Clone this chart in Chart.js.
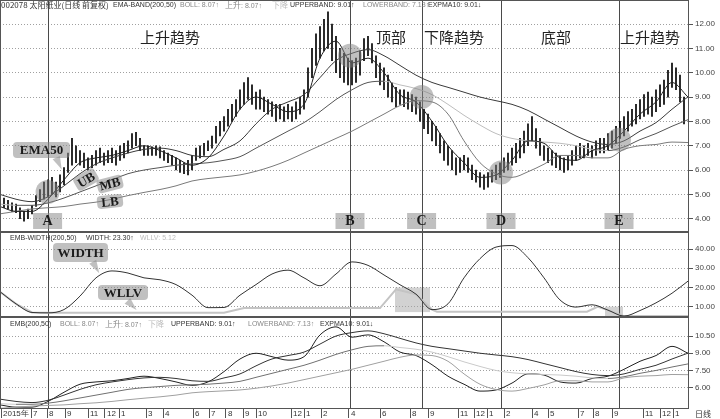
<!DOCTYPE html>
<html><head><meta charset="utf-8">
<script src="https://cdn.jsdelivr.net/npm/chart.js@4.4.0/dist/chart.umd.min.js"></script>
<style>
html,body{margin:0;padding:0;background:#fff}
#wrap{position:relative;width:720px;height:419px;overflow:hidden;background:#fff}
canvas{position:absolute;left:0}
.h{position:absolute;font:7px "Liberation Sans","DejaVu Sans",sans-serif;line-height:9px;white-space:nowrap;color:#333}
.h.z,.z{font-family:"Noto Sans CJK SC",sans-serif;font-size:8px}
.g{color:#888}.l{color:#bdbdbd}
.big{position:absolute;font:15px "Noto Sans CJK SC",sans-serif;line-height:15px;color:#222;white-space:nowrap}
.tag{position:absolute;font:bold 13px "Liberation Serif","DejaVu Serif",serif;color:#1b1b1b;background:rgba(140,140,140,0.55);border-radius:4px;text-align:center;white-space:nowrap}
.tail{position:absolute;width:0;height:0;border-left:4px solid transparent;border-right:4px solid transparent;border-top:13px solid rgba(140,140,140,0.55)}
</style></head>
<body><div id="wrap">
<canvas id="c1" width="720" height="232" style="top:0"></canvas>
<canvas id="c2" width="720" height="85" style="top:232px"></canvas>
<canvas id="c3" width="720" height="102" style="top:317px"></canvas>

<div class="h z" style="left:1px;top:0">002078 太阳纸业(日线 前复权)</div>
<div class="h" style="left:113px;top:0">EMA-BAND(200,50)</div>
<div class="h g" style="left:180px;top:0">BOLL: 8.07↑</div>
<div class="h g" style="left:225px;top:0"><span class="z">上升</span>: 8.07↑</div>
<div class="h l z" style="left:272px;top:0">下降</div>
<div class="h" style="left:290px;top:0">UPPERBAND: 9.01↑</div>
<div class="h g" style="left:363px;top:0">LOWERBAND: 7.13↑</div>
<div class="h" style="left:428px;top:0">EXPMA10: 9.01↓</div>

<div class="h" style="left:10px;top:233px">EMB-WIDTH(200,50)</div>
<div class="h" style="left:86px;top:233px">WIDTH: 23.30↑</div>
<div class="h l" style="left:140px;top:233px">WLLV: 5.12</div>

<div class="h" style="left:10px;top:319px">EMB(200,50)</div>
<div class="h g" style="left:60px;top:319px">BOLL: 8.07↑</div>
<div class="h g" style="left:105px;top:319px"><span class="z">上升</span>: 8.07↑</div>
<div class="h l z" style="left:148px;top:319px">下降</div>
<div class="h" style="left:171px;top:319px">UPPERBAND: 9.01↑</div>
<div class="h g" style="left:248px;top:319px">LOWERBAND: 7.13↑</div>
<div class="h" style="left:320px;top:319px">EXPMA10: 9.01↓</div>
<div class="h z" style="left:695px;top:409px">日线</div>

<div class="big" style="left:140px;top:29px">上升趋势</div>
<div class="big" style="left:376px;top:29px">顶部</div>
<div class="big" style="left:424px;top:29px">下降趋势</div>
<div class="big" style="left:541px;top:29px">底部</div>
<div class="big" style="left:620px;top:29px">上升趋势</div>

<div class="tail" style="left:55px;top:157px;transform:rotate(-25deg)"></div>
<div class="tag" style="left:13px;top:142px;width:57px;height:16px;line-height:16px">EMA50</div>
<div class="tag" style="left:74px;top:172px;width:24px;height:15px;line-height:15px;transform:rotate(-30deg)">UB</div>
<div class="tag" style="left:97px;top:177px;width:26px;height:14px;line-height:14px;transform:rotate(-14deg)">MB</div>
<div class="tag" style="left:97px;top:195px;width:26px;height:13px;line-height:13px;transform:rotate(-6deg)">LB</div>
<div class="tail" style="left:92px;top:261px;transform:rotate(-30deg)"></div>
<div class="tag" style="left:53px;top:243px;width:55px;height:19px;line-height:19px">WIDTH</div>
<div class="tail" style="left:128px;top:299px;transform:rotate(-45deg)"></div>
<div class="tag" style="left:98px;top:285px;width:50px;height:15px;line-height:15px">WLLV</div>
</div>
<script>
// ---- data ----
const lows = [
4.45,4.4,4.3,4.25,4.0,3.9,4.0,4.2,4.5,4.7,
4.8,4.9,5.0,4.9,5.1,5.4,5.9,6.2,6.3,6.2,
6.1,6.0,6.1,6.2,6.3,6.2,6.3,6.3,6.2,6.4,
6.5,6.7,6.9,7.0,6.8,6.6,6.6,6.6,6.6,6.5,
6.4,6.3,6.2,6.0,5.9,5.85,5.8,6.0,6.4,6.5,
6.6,6.8,6.9,7.1,7.4,7.6,7.8,8.0,8.2,8.5,
8.7,8.9,8.7,8.5,8.5,8.4,8.3,8.2,8.0,8.1,
8.0,8.1,8.0,8.1,8.3,8.5,9.0,9.8,10.3,10.6,
10.9,11.0,10.5,10.0,9.8,9.6,9.5,9.5,9.6,9.9,
10.5,10.7,10.4,9.8,9.5,9.3,9.0,8.8,8.6,8.7,
8.6,8.5,8.4,8.3,8.0,7.7,7.5,7.2,7.0,6.7,
6.4,6.2,6.0,5.8,5.9,6.0,5.9,5.6,5.5,5.3,
5.2,5.3,5.5,5.6,5.7,5.9,6.0,6.2,6.3,6.5,
6.7,7.0,7.2,6.9,6.6,6.4,6.3,6.2,6.1,6.0,
5.9,6.0,6.2,6.4,6.5,6.5,6.6,6.5,6.6,6.7,
6.7,6.8,6.9,7.1,7.3,7.4,7.6,7.8,7.9,8.1,
8.2,8.3,8.2,8.4,8.6,8.7,9.0,9.4,9.3,8.8,7.9];
const highs = [
4.85,4.75,4.65,4.6,4.45,4.3,4.4,4.55,4.95,5.2,
5.5,5.6,5.7,5.5,5.8,6.1,6.7,7.3,7.0,6.8,
6.7,6.5,6.6,6.8,6.9,6.7,6.8,6.9,6.8,7.0,
7.1,7.2,7.5,7.55,7.3,7.0,7.0,6.95,7.0,6.95,
6.8,6.7,6.6,6.5,6.4,6.3,6.4,6.6,6.9,7.0,
7.1,7.2,7.4,7.8,8.0,8.2,8.5,8.7,8.9,9.3,
9.6,9.8,9.5,9.2,9.3,9.0,8.9,8.8,8.7,8.7,
8.6,8.7,8.6,8.8,9.0,9.3,10.2,11.0,11.6,11.9,
12.2,12.5,12.0,11.5,11.0,10.8,10.6,10.5,10.6,10.9,
11.4,11.5,11.2,10.7,10.4,10.2,9.9,9.6,9.4,9.3,
9.3,9.2,9.1,9.0,8.8,8.5,8.3,8.0,7.8,7.5,
7.2,7.0,6.8,6.5,6.5,6.6,6.5,6.2,6.0,5.9,
5.8,5.9,6.0,6.2,6.3,6.5,6.7,6.9,7.1,7.3,
7.6,7.9,8.2,7.7,7.3,7.0,6.9,6.8,6.7,6.6,
6.5,6.6,6.8,7.0,7.1,7.0,7.1,7.0,7.2,7.3,
7.3,7.5,7.6,7.8,8.0,8.2,8.4,8.5,8.7,8.9,
9.1,9.2,9.0,9.3,9.5,9.7,10.1,10.4,10.2,9.9,9.0];
// line series sampled every 4 bars (day index 0,4,...,172)
const expma10 = [4.5,4.3,4.3,4.8,5.6,6.3,6.5,6.6,6.8,7.0,
6.8,6.5,6.2,6.5,7.4,8.5,9.0,8.7,8.4,8.7,
10.6,11.3,10.4,10.6,10.0,9.1,8.8,8.0,7.0,6.3,
5.7,5.8,6.4,7.2,7.1,6.5,6.4,6.8,7.0,7.6,
8.3,8.8,9.6,9.0];
const upperBand = [5.0,4.8,4.7,4.9,5.35,5.85,6.25,6.5,6.7,6.85,
6.9,6.8,6.6,6.55,6.85,7.2,7.9,8.5,8.8,9.1,
9.8,10.5,10.8,10.95,10.7,10.3,9.9,9.6,9.4,9.2,
9.0,8.85,8.7,8.45,8.1,7.75,7.4,7.15,7.05,7.2,
7.6,7.95,8.5,9.01];
const boll = [4.6,4.55,4.55,4.65,4.85,5.1,5.35,5.6,5.85,6.0,
6.1,6.2,6.25,6.3,6.4,6.55,6.9,7.25,7.6,7.95,
8.4,8.9,9.3,9.6,9.65,9.5,9.35,9.1,8.7,8.25,
7.85,7.5,7.3,7.2,7.15,7.1,7.0,6.85,6.8,6.95,
7.25,7.5,7.8,8.07];
const lowerBand = [4.2,4.3,4.4,4.45,4.5,4.6,4.68,4.8,4.95,5.08,
5.2,5.35,5.55,5.65,5.72,5.8,5.95,6.15,6.4,6.7,
7.0,7.3,7.6,7.95,8.3,8.65,8.85,8.8,8.3,7.2,
6.3,5.84,5.7,5.93,6.24,6.6,6.6,6.5,6.5,6.85,
7.0,7.05,7.15,7.13];
const widthVals = [17.8,11.5,7.0,6.8,8.5,15.5,25,28.6,27.5,25,
24,21.5,16,9.5,9.6,16,21.5,27,29,25,
20.9,27,33.3,31.5,26.5,21.4,16.5,8.5,11.5,25,
35,41,41.8,35.5,25,13.5,9.8,11,8.2,5.12,
8,12,17,23.3];
const wllvX = [0,4,8,12,56,61,95,99,104,108,109.25,146.75,149.5,152,156,172.25];
const wllvY = [17.8,11.5,7.0,6.8,6.8,9.3,9.3,19.0,16.5,8.5,7.4,7.4,10.0,8.2,5.12,5.12];
const markerX = [11.9,87.5,105.4,125.25,154.75];
const markerLabels = ['A','B','C','D','E'];
const circleY = [5.1,10.7,9.0,5.9,7.25];
const priceTicks = [4,5,6,7,8,9,10,11,12];
const widthTicks = [10,20,30,40];
const lowTicks = [6,7.5,9,10.5];
const monthPos = [0.25,7.75,11.75,16.25,22,26.25,29.75,36.5,40.75,48.25,52.25,56.5,60.75,64,72.75,76,80.25,87.25,95,102.5,107,114.5,118.5,121.75,126,133,137,144.5,148.25,153,160.75,165,168.25];
const monthLabels = ['2015年','7','8','9','11','12','1','3','4','6','7','8','9','10','12','1','2','4','6','8','9','11','12','1','2','4','5','7','8','9','11','12','1'];
const boxes2 = [{x0:98.75,x1:107.5,y0:7.2,y1:20},{x0:151.25,x1:155.75,y0:4.7,y1:10}];

// ---- helpers ----
const sampleDays = expma10.map((_, k) => k * 4);
const pts = arr => arr.map((y, k) => ({x: sampleDays[k], y}));
const X_MAX = 172.25;

function xScale(show) {
  const s = {type:'linear', min:0, max:X_MAX, offset:false, display:show,
    grid:{display:show, drawOnChartArea:false, offset:false, color:'#555', tickLength:9, tickColor:'#555'},
    border:{display:false}};
  if (show) {
    s.afterBuildTicks = sc => { sc.ticks = monthPos.map(v => ({value:v})); };
    s.afterFit = sc => { sc.height = 10; sc.paddingLeft = 0; sc.paddingRight = 0; };
    s.ticks = {autoSkip:false, maxRotation:0, minRotation:0, align:'start', labelOffset:2, padding:-9,
      font:{size:8, family:'Liberation Sans'}, color:'#333',
      callback:(v, i) => monthLabels[i]};
  }
  return s;
}
function yScale(min, max, ticks) {
  return {position:'right', min, max,
    afterBuildTicks: sc => { sc.ticks = ticks.map(v => ({value:v})); },
    afterFit: sc => { sc.width = 31; sc.paddingTop = 0; sc.paddingBottom = 0; },
    ticks:{autoSkip:false, callback:v => Number(v).toFixed(2), font:{size:8, family:'Liberation Sans'}, color:'#444', padding:2},
    grid:{color:'#a0a0a0', lineWidth:1, drawTicks:true, tickLength:4, tickColor:'#555'},
    border:{display:false, dash:[1,2]}};
}
const frame = {id:'frame', afterDraw(chart){
  const {ctx, chartArea:a} = chart; ctx.save(); ctx.strokeStyle='#555'; ctx.lineWidth=1;
  ctx.strokeRect(a.left+0.5, a.top+0.5, a.right-a.left-1, a.bottom-a.top-1); ctx.restore(); }};
const markers = {id:'markers', beforeDatasetsDraw(chart){
  const {ctx, chartArea:a, scales:{x}} = chart; ctx.save(); ctx.strokeStyle='#4a4a4a'; ctx.lineWidth=1;
  markerX.forEach(v => { const px = Math.round(x.getPixelForValue(v)) + 0.5;
    ctx.beginPath(); ctx.moveTo(px, a.top); ctx.lineTo(px, a.bottom); ctx.stroke(); });
  ctx.restore(); }};
const letterBoxes = {id:'letters', afterDatasetsDraw(chart){
  const {ctx, scales:{x}} = chart; ctx.save();
  markerX.forEach((v, k) => { const px = x.getPixelForValue(v);
    ctx.fillStyle='rgba(140,140,140,0.55)'; ctx.fillRect(px-14.5, 213, 29, 16);
    ctx.fillStyle='#1b1b1b'; ctx.font='bold 14px "Liberation Serif", serif'; ctx.textAlign='center'; ctx.textBaseline='middle';
    ctx.fillText(markerLabels[k], px, 221.5); });
  ctx.restore(); }};
const grayBoxes = {id:'grayBoxes', beforeDatasetsDraw(chart){
  const {ctx, scales:{x, y}} = chart; ctx.save(); ctx.fillStyle='rgba(165,165,165,0.5)';
  boxes2.forEach(b => { const x0 = x.getPixelForValue(b.x0), x1 = x.getPixelForValue(b.x1);
    const y0 = y.getPixelForValue(b.y1), y1 = y.getPixelForValue(b.y0);
    ctx.fillRect(x0, y0, x1-x0, y1-y0); });
  ctx.restore(); }};

const lineDs = (arr, color, extra) => Object.assign({type:'line', data:pts(arr), borderColor:color, borderWidth:1,
  pointRadius:0, cubicInterpolationMode:'monotone', fill:false}, extra || {});
const bollSeg = (up, down) => ({segment:{borderColor: c => c.p1.parsed.y >= c.p0.parsed.y ? up : down}});
const base = {responsive:false, maintainAspectRatio:false, animation:false, events:[],
  layout:{padding:0, autoPadding:false}, plugins:{legend:{display:false}, tooltip:{enabled:false}}};

new Chart(document.getElementById('c1'), {
  type:'line',
  data:{datasets:[
    {type:'bar', data:highs.map((h, k) => ({x:k+1, y:[lows[k], h]})), backgroundColor:'#000', barThickness:1, grouped:false, order:5},
    lineDs(lowerBand, '#7a7a7a', {order:4}),
    lineDs(boll, '#555', Object.assign({order:3}, bollSeg('#555', '#bdbdbd'))),
    lineDs(upperBand, '#3a3a3a', {order:2}),
    lineDs(expma10, '#222', {order:1}),
    {type:'line', showLine:false, data:markerX.map((v, k) => ({x:v, y:circleY[k]})), pointRadius:12,
      pointBackgroundColor:'rgba(130,130,130,0.5)', pointBorderWidth:0, order:0}
  ]},
  options:Object.assign({}, base, {scales:{x:xScale(false), y:yScale(3.453, 12.99, priceTicks)}}),
  plugins:[markers, frame, letterBoxes]
});
new Chart(document.getElementById('c2'), {
  type:'line',
  data:{datasets:[
    lineDs(widthVals, '#333'),
    {type:'line', data:wllvX.map((v, k) => ({x:v, y:wllvY[k]})), borderColor:'#c4c4c4', borderWidth:2, pointRadius:0, tension:0}
  ]},
  options:Object.assign({}, base, {scales:{x:xScale(false), y:yScale(4.64, 48.85, widthTicks)}}),
  plugins:[grayBoxes, markers, frame]
});
new Chart(document.getElementById('c3'), {
  type:'line',
  data:{datasets:[
    lineDs(lowerBand, '#a0a0a0'),
    lineDs(boll, '#707070', bollSeg('#707070', '#cacaca')),
    lineDs(upperBand, '#333'),
    lineDs(expma10, '#222')
  ]},
  options:Object.assign({}, base, {scales:{x:xScale(true), y:yScale(4.14, 12.16, lowTicks)}}),
  plugins:[markers, frame]
});
</script>
</body></html>
